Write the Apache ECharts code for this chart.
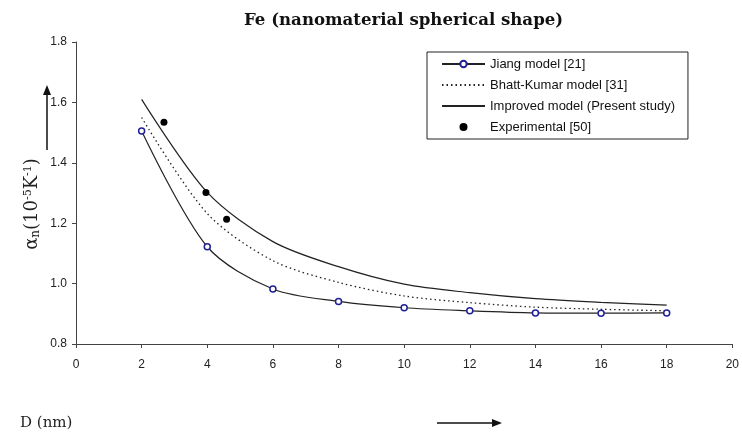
<!DOCTYPE html>
<html>
<head>
<meta charset="utf-8">
<script src="https://cdn.jsdelivr.net/npm/echarts@6/dist/echarts.min.js"></script>
<style>
  html, body { margin: 0; padding: 0; background: #fff; }
  #chart { width: 742px; height: 433px; }
</style>
</head>
<body>
<div id="chart"></div>
<script>
const titleText = 'Fe (nanomaterial spherical shape)';
const seriesNames = ['Jiang model [21]', 'Bhatt-Kumar model [31]', 'Improved model (Present study)', 'Experimental [50]'];
const diameters = [2, 4, 6, 8, 10, 12, 14, 16, 18];
const jiang = [1.505, 1.122, 0.982, 0.941, 0.920, 0.910, 0.903, 0.902, 0.903];
const bhattKumar = [1.55, 1.232, 1.076, 1.004, 0.959, 0.937, 0.922, 0.915, 0.910];
const improved = [1.61, 1.302, 1.139, 1.056, 0.998, 0.970, 0.950, 0.938, 0.929];
const expD = [2.68, 3.96, 4.59];
const expAlpha = [1.534, 1.302, 1.213];
const xTicks = { min: 0, max: 20, interval: 2 };
const yTicks = { min: 0.8, max: 1.8, interval: 0.2 };

function pairs(xs, ys) { return xs.map((x, i) => [x, ys[i]]); }

const chart = echarts.init(document.getElementById('chart'), null, { renderer: 'canvas' });
const axisColor = '#444';
const labelStyle = { color: '#222', fontFamily: 'Liberation Sans, Arial, sans-serif', fontSize: 12 };
const hiddenSymbol = { color: 'rgba(0,0,0,0)', borderColor: 'rgba(0,0,0,0)', borderWidth: 0 };

chart.setOption({
  animation: false,
  backgroundColor: '#fff',
  title: {
    text: titleText,
    left: 239, top: 7,
    textStyle: { fontFamily: 'DejaVu Serif', fontWeight: 'bold', fontSize: 16.6, color: '#111' }
  },
  grid: { left: 76, right: 9, top: 42, bottom: 89, containLabel: false },
  legend: {
    orient: 'vertical',
    left: 427, top: 52,
    data: [
      { name: seriesNames[0] },
      { name: seriesNames[1], itemStyle: hiddenSymbol },
      { name: seriesNames[2], itemStyle: hiddenSymbol },
      { name: seriesNames[3] }
    ],
    itemWidth: 43, itemHeight: 8, itemGap: 7,
    padding: [5, 13, 5, 14],
    borderColor: '#222', borderWidth: 1,
    backgroundColor: '#fff',
    textStyle: { color: '#111', fontFamily: 'Liberation Sans, Arial, sans-serif', fontSize: 13, lineHeight: 14 }
  },
  xAxis: {
    type: 'value', min: xTicks.min, max: xTicks.max, interval: xTicks.interval,
    axisLine: { show: true, onZero: false, lineStyle: { color: axisColor, width: 1 } },
    axisTick: { show: true, length: 4, inside: false, lineStyle: { color: axisColor } },
    axisLabel: Object.assign({ margin: 15 }, labelStyle),
    splitLine: { show: false }
  },
  yAxis: {
    type: 'value', min: yTicks.min, max: yTicks.max, interval: yTicks.interval,
    axisLine: { show: true, onZero: false, lineStyle: { color: axisColor, width: 1 } },
    axisTick: { show: true, length: 4, lineStyle: { color: axisColor } },
    axisLabel: Object.assign({ margin: 9, formatter: v => v.toFixed(1) }, labelStyle),
    splitLine: { show: false }
  },
  series: [
    {
      name: seriesNames[0], type: 'line', data: pairs(diameters, jiang),
      smooth: 0.3,
      symbol: 'circle', symbolSize: 6,
      lineStyle: { color: '#222', width: 1.2 },
      itemStyle: { color: '#fff', borderColor: '#1f1f96', borderWidth: 1.5 },
      z: 3
    },
    {
      name: seriesNames[1], type: 'line', data: pairs(diameters, bhattKumar),
      smooth: 0.3, showSymbol: false, symbol: 'none',
      lineStyle: { color: '#222', width: 1.3, type: [1.5, 3] },
      itemStyle: { color: '#222' }
    },
    {
      name: seriesNames[2], type: 'line', data: pairs(diameters, improved),
      smooth: 0.3, showSymbol: false, symbol: 'none',
      lineStyle: { color: '#222', width: 1.2 },
      itemStyle: { color: '#222' }
    },
    {
      name: seriesNames[3], type: 'scatter', data: pairs(expD, expAlpha),
      symbol: 'circle', symbolSize: 7,
      itemStyle: { color: '#000', opacity: 1 }, z: 4
    }
  ],
  graphic: [
    {
      type: 'text', x: 32, y: 204, rotation: Math.PI / 2,
      style: {
        text: '{m|α}{s|n}{m|(10}{p|-5}{m|K}{p|-1}{m|)}',
        align: 'center', verticalAlign: 'middle',
        fill: '#222',
        rich: {
          m: { fontFamily: 'DejaVu Serif', fontSize: 18, fill: '#222', verticalAlign: 'middle' },
          s: { fontFamily: 'DejaVu Serif', fontSize: 12, fill: '#222', verticalAlign: 'bottom', padding: [7, 0, 0, 0] },
          p: { fontFamily: 'DejaVu Serif', fontSize: 11, fill: '#222', verticalAlign: 'top', padding: [0, 0, 7, 0] }
        }
      }
    },
    { type: 'line', shape: { x1: 47, y1: 150, x2: 47, y2: 92 }, style: { stroke: '#111', lineWidth: 1.5 } },
    { type: 'polygon', shape: { points: [[47, 85], [43, 95], [51, 95]] }, style: { fill: '#111' } },
    {
      type: 'text', x: 20, y: 423,
      style: { text: 'D (nm)', fontFamily: 'DejaVu Serif', fontSize: 15, fill: '#222', verticalAlign: 'middle' }
    },
    { type: 'line', shape: { x1: 437, y1: 423, x2: 494, y2: 423 }, style: { stroke: '#111', lineWidth: 1.5 } },
    { type: 'polygon', shape: { points: [[502, 423], [492, 419], [492, 427]] }, style: { fill: '#111' } }
  ]
});
</script>
</body>
</html>
